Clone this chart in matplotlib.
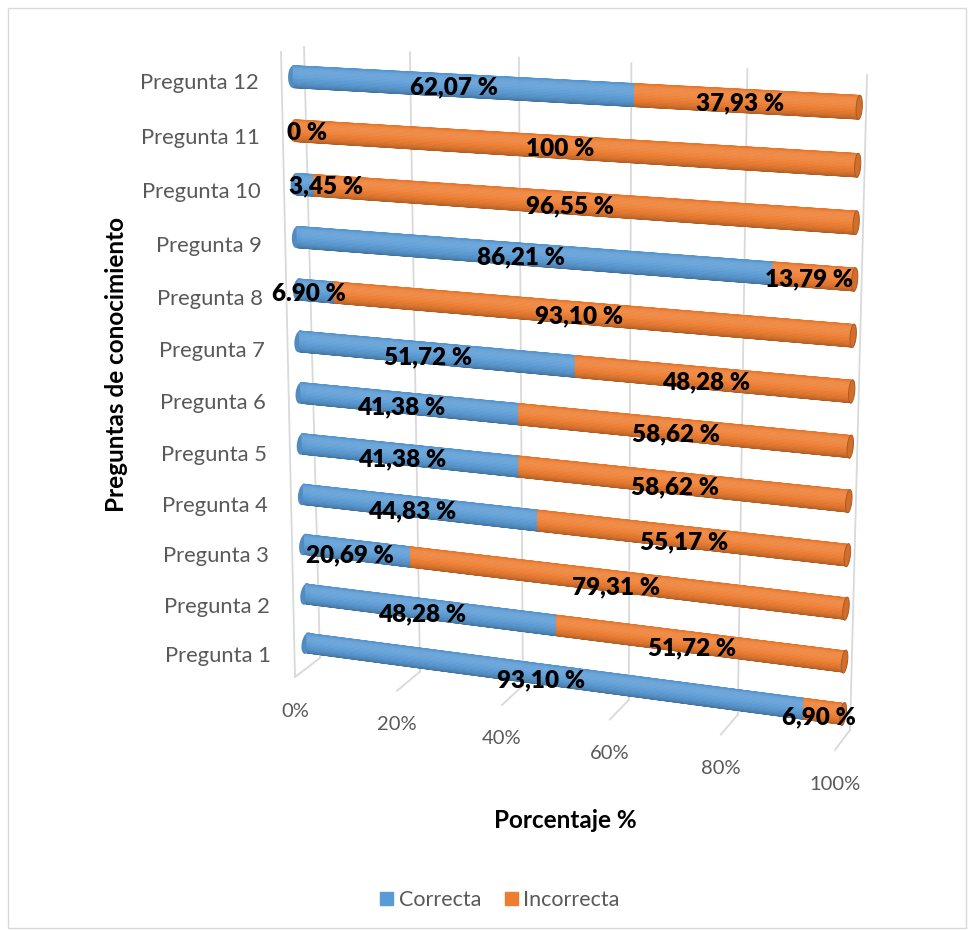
import numpy as np
import matplotlib
matplotlib.use("Agg")
import matplotlib.pyplot as plt
import matplotlib.transforms as mtransforms
from matplotlib.patches import Polygon, Patch, Rectangle
from matplotlib.lines import Line2D
from matplotlib.colors import to_rgb

# datos
preguntas = ["Pregunta 1", "Pregunta 2", "Pregunta 3", "Pregunta 4", "Pregunta 5", "Pregunta 6",
             "Pregunta 7", "Pregunta 8", "Pregunta 9", "Pregunta 10", "Pregunta 11", "Pregunta 12"]
correcta = [93.10, 48.28, 20.69, 44.83, 41.38, 41.38, 51.72, 6.90, 86.21, 3.45, 0.0, 62.07]
incorrecta = [6.90, 51.72, 79.31, 55.17, 58.62, 58.62, 48.28, 93.10, 13.79, 96.55, 100.0, 37.93]
etiq_correcta = ["93,10 %", "48,28 %", "20,69 %", "44,83 %", "41,38 %", "41,38 %",
                 "51,72 %", "6.90 %", "86,21 %", "3,45 %", "0 %", "62,07 %"]
etiq_incorrecta = ["6,90 %", "51,72 %", "79,31 %", "55,17 %", "58,62 %", "58,62 %",
                   "48,28 %", "93,10 %", "13,79 %", "96,55 %", "100 %", "37,93 %"]
ticks = [0, 20, 40, 60, 80, 100]
tick_labels = ["0%", "20%", "40%", "60%", "80%", "100%"]

AZUL = "#5B9BD5"
NARANJA = "#ED7D31"
GRIS_TXT = "#595959"
GRIS_LIN = "#D9D9D9"

plt.rcParams['font.family'] = ['Lato', 'DejaVu Sans']

W, H = 971, 930
fig = plt.figure(figsize=(W / 100, H / 100), dpi=100)

# esquinas (px) de la caja 3D: sup-izq, sup-der, inf-izq, inf-der
frente = [(281, 52), (853, 81), (295, 677), (835, 750)]
fondo = [(304, 47), (867, 75), (320, 658), (850, 730)]


def homografia(dst):
    src = [(0, 1), (1, 1), (0, 0), (1, 0)]
    A, b = [], []
    for (x, y), (X, Y) in zip(src, dst):
        A.append([x, y, 1, 0, 0, 0, -X * x, -X * y]); b.append(X)
        A.append([0, 0, 0, x, y, 1, -Y * x, -Y * y]); b.append(Y)
    h = np.linalg.solve(np.array(A, float), np.array(b, float))
    return np.append(h, 1).reshape(3, 3)


H_frente, H_fondo = homografia(frente), homografia(fondo)


def proyecta(v, c, d):
    u = np.asarray(v, float) / 100
    w = (np.asarray(c, float) - 0.5) / 12
    p = np.stack([u, w, np.ones_like(u)], axis=-1)
    d = np.asarray(d, float)[..., None]
    qf = p @ H_frente.T
    qb = p @ H_fondo.T
    return (1 - d) * qf[..., :2] / qf[..., 2:3] + d * qb[..., :2] / qb[..., 2:3]


a_fig = mtransforms.Affine2D().scale(1 / W, -1 / H).translate(0, 1) + fig.transFigure


class Plano(mtransforms.Transform):
    # plano de la caja 3D con una coordenada fija: "d" profundidad, "c" categoria, "v" valor
    input_dims = 2
    output_dims = 2

    def __init__(self, fijo, valor):
        super().__init__()
        self.fijo = fijo
        self.valor = valor

    def transform_non_affine(self, values):
        xy = np.asarray(values, float).reshape(-1, 2)
        a, b = xy[:, 0], xy[:, 1]
        k = np.full_like(a, self.valor)
        if self.fijo == "d":
            return proyecta(a, b, k)
        if self.fijo == "c":
            return proyecta(a, k, b)
        return proyecta(k, a, b)


def T(fijo, valor):
    return Plano(fijo, valor) + a_fig


# rejilla: pared del fondo, suelo y borde izquierdo
for v in ticks:
    fig.add_artist(Line2D([v, v], [0.5, 12.5], transform=T("d", 1.0), color=GRIS_LIN, lw=1.3, zorder=1))
    fig.add_artist(Line2D([v, v], [0.0, 1.0], transform=T("c", 0.5), color=GRIS_LIN, lw=1.3, zorder=1))
fig.add_artist(Line2D([0, 0], [0.5, 12.5], transform=T("d", 0.0), color=GRIS_LIN, lw=1.3, zorder=1))

# cilindros
R, RD = 0.205, 0.22
angulos = np.radians(np.linspace(-90, 90, 25))


def tono(color, th):
    b = 0.82 + 0.24 * np.cos(th - np.radians(30))
    rgb = np.array(to_rgb(color))
    if b >= 1:
        return tuple(rgb + (1 - rgb) * (b - 1) * 1.8)
    return tuple(rgb * b)


def tapa(c, v, fc, ec, z):
    phi = np.linspace(0, 2 * np.pi, 60)
    pts = np.column_stack([c + R * np.sin(phi), 0.5 + RD * np.cos(phi)])
    fig.add_artist(Polygon(pts, closed=True, transform=T("v", v), fc=fc, ec=ec, lw=0.7, zorder=z))


def cuerpo(c, v0, v1, color, z):
    s = np.sin(angulos)
    for i in range(len(angulos) - 1):
        col = tono(color, (angulos[i] + angulos[i + 1]) / 2)
        y0, y1 = c + R * s[i], c + R * s[i + 1]
        fig.add_artist(Polygon([(v0, y0), (v1, y0), (v1, y1), (v0, y1)], closed=True,
                               transform=T("d", 0.5), fc=col, ec=col, lw=0.5, zorder=z))


for i, c in enumerate(range(1, 13)):
    segs = [(0, correcta[i], AZUL), (correcta[i], correcta[i] + incorrecta[i], NARANJA)]
    segs = [s for s in segs if s[1] - s[0] > 0]
    z = 2 + i * 0.01
    tapa(c, 0, tuple(np.array(to_rgb(segs[0][2])) * 0.9), "none", z)
    for v0, v1, col in segs:
        cuerpo(c, v0, v1, col, z + 0.001)
    fin = segs[-1]
    tapa(c, fin[1], tuple(np.array(to_rgb(fin[2])) * 0.88), tuple(np.array(to_rgb(fin[2])) * 0.72), z + 0.002)

# etiquetas de datos
for i, c in enumerate(range(1, 13)):
    for v0, v1, txt in [(0, correcta[i], etiq_correcta[i]),
                        (correcta[i], correcta[i] + incorrecta[i], etiq_incorrecta[i])]:
        centro = (v0 + v1) / 2
        if centro < 2.5:
            fig.text(0, c, txt, transform=T("d", 0.2), ha="left", va="center",
                     fontsize=17.5, fontweight="heavy", color="black", zorder=6)
        else:
            fig.text(centro, c, txt, transform=T("d", 0.2), ha="center", va="center",
                     fontsize=17.5, fontweight="heavy", color="black", zorder=6)

# etiquetas de categoria y de eje
t_cat = mtransforms.offset_copy(T("d", 0.0), fig=fig, x=-23, y=-4, units="dots")
for c, nombre in zip(range(1, 13), preguntas):
    fig.text(0, c, nombre, transform=t_cat, ha="right", va="center", fontsize=15.8, color=GRIS_TXT)

t_tick = mtransforms.offset_copy(T("d", 0.0), fig=fig, x=0, y=-34, units="dots")
for v, lab in zip(ticks, tick_labels):
    fig.text(v, 0.5, lab, transform=t_tick, ha="center", va="center", fontsize=14.5, color=GRIS_TXT)

fig.text(117 / W, 1 - 364 / H, "Preguntas de conocimiento", rotation=90, ha="center", va="center",
         fontsize=17.5, fontweight="bold", color="black")
fig.text(565 / W, 1 - 820 / H, "Porcentaje %", ha="center", va="center",
         fontsize=17.5, fontweight="bold", color="black")

fig.legend(handles=[Patch(color=AZUL, label="Correcta"), Patch(color=NARANJA, label="Incorrecta")],
           loc="center", bbox_to_anchor=(500 / W, 1 - 900 / H), ncol=2, frameon=False,
           fontsize=15.5, handlelength=0.6, handleheight=0.6, handletextpad=0.25,
           columnspacing=1.1, labelcolor=GRIS_TXT)

fig.add_artist(Rectangle((8 / W, 1 - 928 / H), 958 / W, 920 / H, transform=fig.transFigure,
                         fill=False, ec=GRIS_LIN, lw=1))

fig.savefig("out.png", dpi=100, facecolor="white")
